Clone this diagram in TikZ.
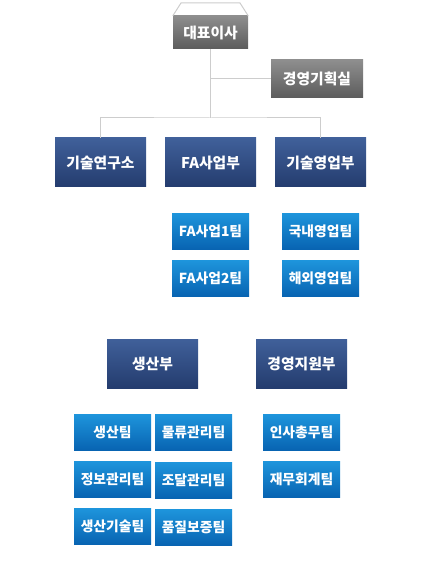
\documentclass[tikz,border=0pt]{standalone}
\usepackage{fontspec}
\newfontfamily\kr{Noto Sans CJK KR}
\definecolor{grayT}{HTML}{8E8E8E}
\definecolor{grayB}{HTML}{5C5C5C}
\definecolor{navyT}{HTML}{40609A}
\definecolor{navyB}{HTML}{243C6E}
\definecolor{blueT}{HTML}{1E95DC}
\definecolor{blueB}{HTML}{0864B2}
\definecolor{lineC}{HTML}{CDCDCD}
\tikzset{
  box/.style={inner sep=0pt, text=white, font=\kr\bfseries\fontsize{14.8}{17}\selectfont},
  graybox/.style={box, top color=grayT, bottom color=grayB},
  navybox/.style={box, top color=navyT, bottom color=navyB, minimum width=91, minimum height=49},
  teambox/.style={box, top color=blueT, bottom color=blueB, minimum width=77, minimum height=36, font=\kr\bfseries\fontsize{13.8}{16}\selectfont},
  conn/.style={draw=lineC, line width=1pt}
}
\begin{document}
\begin{tikzpicture}[x=1pt, y=-1pt]
\useasboundingbox (0,0) rectangle (420,569);
% top level
\node[graybox, minimum width=75, minimum height=33] (ceo) at (210.5,32.5) {대표이사};
\node[graybox, minimum width=92, minimum height=38] (plan) at (317,79) {경영기획실};
\coordinate (j1) at (210.5,79);
\coordinate (j2) at (210.5,118);
\coordinate (tl) at (181,3);
\coordinate (tr) at (240,3);
\draw[conn] (ceo.north west) -- (tl) -- (tr) -- (ceo.north east);
\draw[conn] (ceo) -- (j2);
\draw[conn] (j1) -- (plan);
% divisions
\node[navybox] (lab) at (100.5,162.5) {기술연구소};
\node[navybox] (fa) at (210.5,162.5) {FA사업부};
\node[navybox] (sales) at (320.5,162.5) {기술영업부};
\draw[conn] (lab.north) |- (j2) -| (sales.north);
% teams
\node[teambox] (fa1) at (210.5,231) {FA사업1팀};
\node[teambox] (fa2) at (210.5,278) {FA사업2팀};
\node[teambox] (dom) at (320.5,231) {국내영업팀};
\node[teambox] (ovs) at (320.5,278) {해외영업팀};
% lower divisions
\node[navybox] (prod) at (152.5,363.5) {생산부};
\node[navybox] (mgmt) at (301.5,363.5) {경영지원부};
\node[teambox] (t1) at (112.5,432) {생산팀};
\node[teambox] (t2) at (193.5,432) {물류관리팀};
\node[teambox] (t3) at (112.5,479) {정보관리팀};
\node[teambox] (t4) at (193.5,480) {조달관리팀};
\node[teambox] (t5) at (112.5,526) {생산기술팀};
\node[teambox] (t6) at (193.5,527) {품질보증팀};
\node[teambox] (t7) at (301.5,432) {인사총무팀};
\node[teambox] (t8) at (301.5,479) {재무회계팀};
\end{tikzpicture}
\end{document}
